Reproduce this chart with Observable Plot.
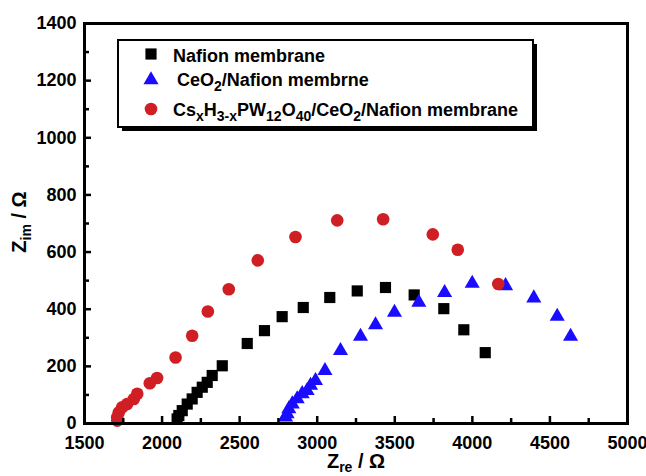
<!DOCTYPE html>
<html>
<head>
<meta charset="utf-8">
<script src="https://cdn.jsdelivr.net/npm/d3@7"></script>
<script src="https://cdn.jsdelivr.net/npm/@observablehq/plot@0.6"></script>
<style>
  html, body { margin: 0; padding: 0; background: #fff; }
  #chart { width: 646px; height: 476px; }
</style>
</head>
<body>
<div id="chart"></div>
<script>
// Nyquist plots: Z_re vs Z_im (Ω) for three membranes
const nafionRe = [2097, 2108, 2130, 2162, 2194, 2226, 2259, 2291, 2323, 2388, 2549, 2660, 2774, 2910, 3081, 3258, 3440, 3625, 3816, 3945, 4083];
const nafionIm = [16, 28, 45, 68, 86, 109, 127, 144, 168, 202, 280, 325, 374, 406, 441, 464, 476, 450, 402, 328, 248];

const ceriaRe = [2796, 2806, 2817, 2839, 2871, 2903, 2935, 2957, 2989, 3050, 3150, 3279, 3376, 3498, 3655, 3821, 3999, 4214, 4396, 4547, 4633];
const ceriaIm = [22, 34, 51, 68, 86, 104, 115, 133, 150, 185, 255, 305, 345, 389, 424, 458, 490, 482, 439, 375, 305];

const hpaRe = [1711, 1711, 1721, 1743, 1775, 1818, 1840, 1921, 1968, 2087, 2194, 2295, 2430, 2617, 2860, 3129, 3425, 3745, 3906, 4167];
const hpaIm = [10, 22, 39, 57, 68, 86, 104, 141, 159, 231, 307, 392, 470, 571, 653, 711, 715, 662, 608, 488];

const xMajor = [1500, 2000, 2500, 3000, 3500, 4000, 4500, 5000];
const xMinor = [1750, 2250, 2750, 3250, 3750, 4250, 4750];
const yMajor = [0, 200, 400, 600, 800, 1000, 1200, 1400];
const yMinor = [100, 300, 500, 700, 900, 1100, 1300];
const xDomain = [1500, 5000];
const yDomain = [0, 1400];

const BLACK = "#000000", BLUE = "#1a0cff", RED = "#d01f24";

const toRows = (xs, ys) => xs.map((x, i) => ({x, y: ys[i]}));
const nafion = toRows(nafionRe, nafionIm);
const ceria = toRows(ceriaRe, ceriaIm);
const hpa = toRows(hpaRe, hpaIm);

const W = 646, H = 476, mL = 84, mR = 19, mT = 23, mB = 53;
const innerW = W - mL - mR, innerH = H - mT - mB;

const svg = Plot.plot({
  width: W, height: H,
  marginLeft: mL, marginRight: mR, marginTop: mT, marginBottom: mB,
  style: {fontFamily: "'Liberation Sans', Arial, sans-serif", fontWeight: "bold", fontSize: "18px", background: "#fff", color: "#000", overflow: "visible"},
  x: {domain: xDomain},
  y: {domain: yDomain},
  marks: [
    Plot.dot(nafion, {x: "x", y: "y", symbol: "square", r: 6.3, fill: BLACK, stroke: "none"}),
    Plot.dot(ceria, {x: "x", y: "y", symbol: "triangle", r: 5.6, fill: BLUE, stroke: "none"}),
    Plot.dot(hpa, {x: "x", y: "y", symbol: "circle", r: 6.3, fill: RED, stroke: "none"}),
    Plot.axisX({ticks: xMajor, tickSize: 0, tickPadding: 13, tickFormat: d => String(d), label: null}),
    Plot.axisY({ticks: yMajor, tickSize: 0, tickPadding: 8, tickFormat: d => String(d), label: null}),
    // inward tick marks
    Plot.tickX(xMajor, {x: d => d, insetTop: innerH - 7, stroke: BLACK, strokeWidth: 2.5}),
    Plot.tickX(xMinor, {x: d => d, insetTop: innerH - 5, stroke: BLACK, strokeWidth: 2.5}),
    Plot.tickY(yMajor, {y: d => d, insetRight: innerW - 7, stroke: BLACK, strokeWidth: 2.5}),
    Plot.tickY(yMinor, {y: d => d, insetRight: innerW - 5, stroke: BLACK, strokeWidth: 2.5}),
    // box around the plotting area
    Plot.ruleX(xDomain, {stroke: BLACK, strokeWidth: 3}),
    Plot.ruleY(yDomain, {stroke: BLACK, strokeWidth: 3}),
    Plot.frame({stroke: BLACK, strokeWidth: 3})
  ]
});

document.getElementById("chart").appendChild(svg);

const root = d3.select(svg);
const FONT = "'Liberation Sans', Arial, sans-serif";

// text with subscript runs: parts = [[text, isSub], ...]
function richText(g, x, y, parts, size, subSize, shift, anchor) {
  const t = g.append("text")
    .attr("x", x).attr("y", y)
    .attr("text-anchor", anchor)
    .attr("font-family", FONT).attr("font-weight", "bold")
    .attr("font-size", size).attr("fill", "#000");
  let down = false;
  parts.forEach(([s, sub]) => {
    const ts = t.append("tspan").text(s);
    if (sub && !down) { ts.attr("dy", shift); down = true; }
    else if (!sub && down) { ts.attr("dy", -shift); down = false; }
    if (sub) ts.attr("font-size", subSize);
  });
  return t;
}

// axis titles
richText(root, 356, 468, [["Z", false], ["re", true], [" / Ω", false]], 20, 14, 4, "middle");
richText(root.append("g").attr("transform", "translate(26,222) rotate(-90)"), 0, 0,
  [["Z", false], ["im", true], [" / Ω", false]], 20, 14, 5, "middle");

// legend
const lg = root.append("g");
lg.append("rect").attr("x", 122).attr("y", 44).attr("width", 415).attr("height", 87).attr("fill", "#000");
lg.append("rect").attr("x", 118).attr("y", 40).attr("width", 415).attr("height", 87)
  .attr("fill", "#fff").attr("stroke", "#000").attr("stroke-width", 2);

const entries = [
  {sym: d3.symbolSquare, r: 6.3, fill: BLACK, cy: 54, tx: 173, ty: 62, parts: [["Nafion membrane", false]]},
  {sym: d3.symbolTriangle, r: 5.6, fill: BLUE, cy: 80, tx: 177, ty: 86, parts: [["CeO", false], ["2", true], ["/Nafion membrne", false]]},
  {sym: d3.symbolCircle, r: 6.3, fill: RED, cy: 109, tx: 173, ty: 116, parts: [["Cs", false], ["x", true], ["H", false], ["3-x", true], ["PW", false], ["12", true], ["O", false], ["40", true], ["/CeO", false], ["2", true], ["/Nafion membrane", false]]}
];
entries.forEach(e => {
  lg.append("path")
    .attr("d", d3.symbol(e.sym, Math.PI * e.r * e.r)())
    .attr("transform", `translate(151,${e.cy})`)
    .attr("fill", e.fill);
  richText(lg, e.tx, e.ty, e.parts, 18, 14, 5, "start");
});
</script>
</body>
</html>
